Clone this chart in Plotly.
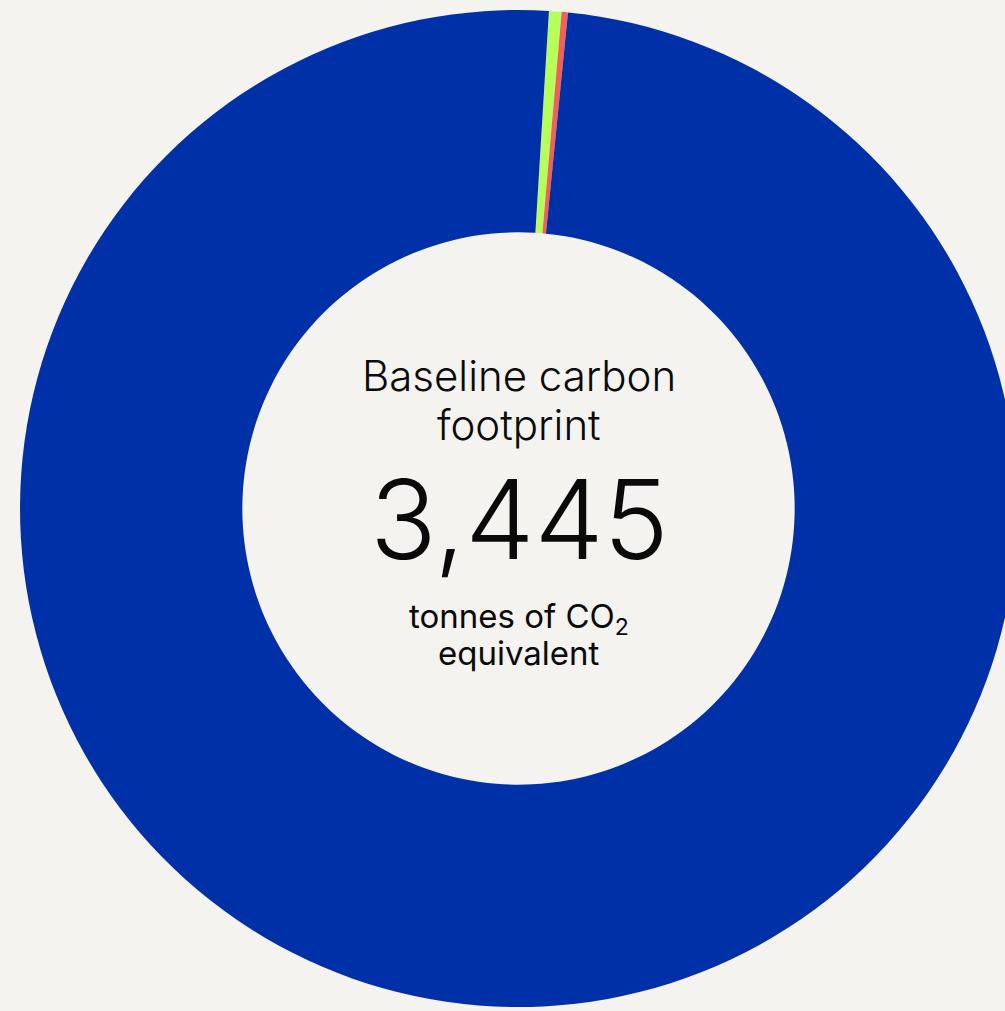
import plotly.graph_objects as go

# Data
labels = ["Scope 1", "Scope 2", "Scope 3"]
values = [14, 7, 3424]
colors = ["#B6FF5B", "#F2605A", "#0030A8"]

total_label = "3,445"
title_lines = ["Baseline carbon", "footprint"]
unit_lines = ["tonnes of CO<sub>2</sub>", "equivalent"]

BG = "#F4F3EF"
W, H = 1040, 1011
L, T, R, B = 20, 10, 23, 4
PW, PH = W - L - R, H - T - B


def px(x):
    return (x - L) / PW


def py(y):
    return 1 - (y - T) / PH


fig = go.Figure(
    go.Pie(
        labels=labels,
        values=values,
        marker=dict(colors=colors, line=dict(width=0)),
        hole=0.554,
        sort=False,
        direction="clockwise",
        rotation=3.5,
        textinfo="none",
        showlegend=False,
        domain=dict(x=[0, 1], y=[0, 1]),
    )
)

cx = 519
ann = [
    (title_lines[0], 375, 42, 300),
    (title_lines[1], 425, 42, 300),
    (total_label, 519, 110, 300),
    (unit_lines[0], 618, 33, 400),
    (unit_lines[1], 653, 33, 400),
]
for text, y, size, weight in ann:
    fig.add_annotation(
        text=text,
        x=px(cx),
        y=py(y),
        xref="paper",
        yref="paper",
        xanchor="center",
        yanchor="middle",
        showarrow=False,
        font=dict(family="Inter", size=size, color="#0A0A0A", weight=weight),
    )

fig.update_layout(
    width=W,
    height=H,
    autosize=False,
    margin=dict(l=L, r=R, t=T, b=B, pad=0),
    paper_bgcolor=BG,
    plot_bgcolor=BG,
)

fig.write_html(
    "out.html",
    config={"displayModeBar": False},
    post_script="document.documentElement.style.overflow='hidden';document.body.style.overflow='hidden';document.body.style.margin='0';",
)
